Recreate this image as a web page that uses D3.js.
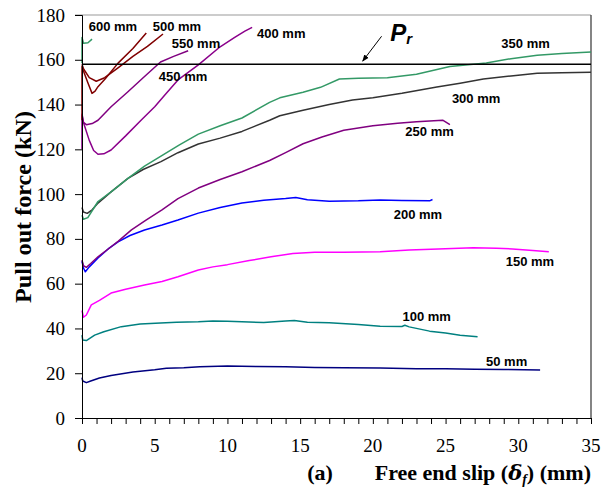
<!DOCTYPE html>
<html>
<head>
<meta charset="utf-8">
<script src="https://cdn.jsdelivr.net/npm/d3@7"></script>
<style>
  body { margin: 0; background: #fff; }
  svg { display: block; }
</style>
</head>
<body>
<svg id="chart" width="602" height="495"></svg>
<script>
// Pull-out force vs free end slip, one curve per embedment length
const lengths = ["50 mm", "100 mm", "150 mm", "200 mm", "250 mm", "300 mm",
                 "350 mm", "400 mm", "450 mm", "500 mm", "550 mm", "600 mm"];

const s50 = [[0,18],[0.05,16.5],[0.3,15.8],[0.6,16.5],[1.2,17.9],[2,19],[3.5,20.5],[5,21.5],[5.8,22.2],[7,22.4],[8.1,22.9],[10,23.2],[12,23],[14,22.9],[16,22.6],[18,22.4],[20.5,22.3],[23,22],[25,22],[27,21.8],[29,21.7],[31.5,21.4]];
const s100 = [[0,37],[0.05,34.8],[0.3,34.6],[0.87,37],[1.5,38.5],[2.7,40.8],[4,42],[5.4,42.4],[6.5,42.8],[8,43],[9,43.3],[10,43.2],[11,43],[12.5,42.6],[14,43.3],[14.6,43.5],[15.5,42.8],[17,42.5],[19,41.8],[20.5,41],[22,40.9],[22.2,41.4],[22.5,40.7],[23.9,38.8],[25,38],[26,37],[27.2,36.3]];
const s150 = [[0,48],[0.1,45],[0.3,46],[0.64,50.5],[1.2,52.5],[2,55.8],[3,57.5],[4.3,59.4],[5.5,61],[6.6,63.1],[8,66.1],[9,67.5],[10,68.5],[11.5,70.3],[13,72],[14.5,73.5],[16,74],[18,74],[20.5,74.3],[22.5,75],[24.5,75.5],[26.9,76],[28.5,75.8],[29.6,75.5],[31,74.8],[32.1,74.3]];
const s200 = [[0,70],[0.1,67],[0.23,65.3],[0.5,67.5],[1.1,71.5],[1.8,75.5],[2.48,78.7],[3.3,81.5],[4.3,84],[5.5,86.2],[6.6,88.4],[8,91.5],[9.5,94],[11,96],[12.5,97.3],[14,98],[14.7,98.5],[15.5,97.5],[17,96.8],[19,97],[20.5,97.4],[22,97.2],[23.9,97],[24.1,97.6]];
const s250 = [[0,70.5],[0.1,68],[0.3,67.3],[0.6,69],[1.1,72],[2,76.5],[2.5,79],[3.4,84],[4.4,88.4],[5.5,93],[6.6,98],[8,102.7],[9.5,106.5],[11,110],[12.9,115],[14,118.5],[15.2,122.5],[16.5,125.5],[18,128.5],[20,130.5],[21.7,131.7],[23,132.3],[24.8,133],[25.3,131]];
const s300 = [[0,94],[0.1,92],[0.36,91.4],[0.7,93],[1.1,96],[2,101],[3.16,107],[4.2,111],[5.43,114.5],[6.6,118.5],[8,122.4],[9.5,125],[11,128],[12.9,133],[13.6,135],[15.2,137.5],[17,140],[18.6,142],[20,143],[22,145],[24.4,147.8],[26,149.5],[27.6,151.4],[29.5,152.8],[31.3,154],[33,154.2],[35,154.4]];
const s350 = [[0,90.6],[0.1,88.8],[0.4,89.5],[1.1,96.7],[2,101],[3.16,107],[4.3,112.5],[5.43,117],[6.7,122],[8,126.8],[9.5,130.5],[11,134],[12.9,141],[13.6,143],[15.2,145.5],[16.4,147.7],[17.7,151.4],[19,151.8],[21,152],[23,153.5],[25.3,157],[27.8,158.6],[29.5,160.5],[31.3,162],[33,162.8],[35,163.5]];
const s400 = [[0,120],[0,135],[0.1,132],[0.5,124],[0.8,119.5],[1.1,117.8],[1.5,118],[2,119.7],[3,126],[4.06,133],[5,139],[5.8,145],[6.6,151],[8,157.7],[9.5,165.8],[10.5,170],[11.2,172.8],[11.7,174.5]];
const s450 = [[0,136],[0.1,132],[0.3,131],[0.7,131.5],[1.1,133],[2,139],[3.16,145.7],[4.3,152.5],[5.4,159],[6.3,161.5],[7.3,164]];
const s500 = [[0,133],[0,157],[0.1,155],[0.41,149.6],[0.69,145],[0.9,146],[1.1,148],[1.6,151.5],[2.48,158.5],[3.5,165],[4.42,172]];
const s550 = [[0,158],[0.1,156],[0.5,152],[0.98,150.4],[1.56,152],[2.5,156.5],[3.5,161.5],[4.5,166],[5.57,171.5]];
const s600 = [[0,158.5],[0,170],[0.1,167.4],[0.41,167.6],[0.69,169.2]];

const seriesValues = [s50, s100, s150, s200, s250, s300, s350, s400, s450, s500, s550, s600];
const seriesColors = ["#000080", "#008080", "#ff00ff", "#0000ff", "#800080", "#333333",
                      "#339966", "#8b008b", "#800080", "#800000", "#800000", "#339966"];

// label anchor for each curve (data units: slip, force)
const labelSlip = [29.2, 23.7, 30.8, 23.1, 23.9, 27.1, 30.5, 13.7, 6.95, 6.53, 7.84, 2.13];
const labelForce = [23.2, 43.3, 67.9, 88.9, 126.0, 140.7, 165.3, 169.7, 150.5, 172.8, 165.3, 172.8];

const resistance = 158; // P_r
const xTicks = d3.range(0, 36, 5);
const xMinorTicks = d3.range(0, 36, 1);
const yTicks = d3.range(0, 181, 20);

const width = 602, height = 495;
const margin = { top: 15, right: 11, bottom: 77, left: 82 };

const svg = d3.select("#chart");

const x = d3.scaleLinear().domain([0, 35]).range([margin.left, width - margin.right]);
const y = d3.scaleLinear().domain([0, 180]).range([height - margin.bottom, margin.top]);

// frame: light top, dark right
svg.append("line")
  .attr("x1", x(0) - 7).attr("x2", x(35))
  .attr("y1", y(180)).attr("y2", y(180))
  .attr("stroke", "#999").attr("stroke-width", 1);
svg.append("line")
  .attr("x1", x(35)).attr("x2", x(35))
  .attr("y1", y(180)).attr("y2", y(0))
  .attr("stroke", "#333").attr("stroke-width", 1.2);

// curves
const line = d3.line().x((d) => x(d[0])).y((d) => y(d[1]));

svg.append("g")
  .attr("class", "curves")
  .selectAll("path")
  .data(seriesValues)
  .enter()
  .append("path")
  .attr("d", line)
  .attr("fill", "none")
  .attr("stroke", (d, i) => seriesColors[i])
  .attr("stroke-width", 1.5)
  .attr("stroke-linejoin", "round");

// P_r line
svg.append("line")
  .attr("x1", x(0)).attr("x2", x(35))
  .attr("y1", y(resistance)).attr("y2", y(resistance))
  .attr("stroke", "#000").attr("stroke-width", 1.4);

// x axis
const xAxis = svg.append("g")
  .attr("transform", `translate(0,${y(0)})`)
  .call(d3.axisBottom(x).tickValues(xMinorTicks).tickSize(6).tickFormat(""));
xAxis.select(".domain").attr("stroke", "#000");
xAxis.append("g")
  .selectAll("text")
  .data(xTicks)
  .enter()
  .append("text")
  .attr("x", (d) => x(d))
  .attr("y", 34)
  .attr("text-anchor", "middle")
  .attr("font-family", "Liberation Serif, Times New Roman, serif")
  .attr("font-size", "19px")
  .attr("fill", "#000")
  .text((d) => d);

// y axis
const yAxis = svg.append("g")
  .attr("transform", `translate(${x(0)},0)`)
  .call(d3.axisLeft(y).tickValues(yTicks).tickSize(7).tickPadding(10));
yAxis.select(".domain").attr("stroke", "#000");
yAxis.selectAll("text")
  .attr("font-family", "Liberation Serif, Times New Roman, serif")
  .attr("font-size", "19px")
  .attr("fill", "#000");

// curve labels
svg.append("g")
  .selectAll("text")
  .data(lengths)
  .enter()
  .append("text")
  .attr("x", (d, i) => x(labelSlip[i]))
  .attr("y", (d, i) => y(labelForce[i]))
  .attr("text-anchor", "middle")
  .attr("font-family", "Liberation Sans, Arial, sans-serif")
  .attr("font-weight", "bold")
  .attr("font-size", "13px")
  .attr("fill", "#000")
  .text((d) => d);

// P_r annotation with arrow
svg.append("defs")
  .append("marker")
  .attr("id", "arrowhead")
  .attr("viewBox", "0 0 10 10")
  .attr("refX", 9).attr("refY", 5)
  .attr("markerWidth", 7).attr("markerHeight", 7)
  .attr("orient", "auto")
  .append("path")
  .attr("d", "M0,1 L10,5 L0,9 z")
  .attr("fill", "#000");

svg.append("line")
  .attr("x1", x(20.6)).attr("y1", y(170.5))
  .attr("x2", x(19.3)).attr("y2", y(159.4))
  .attr("stroke", "#000").attr("stroke-width", 1)
  .attr("marker-end", "url(#arrowhead)");

const pr = svg.append("text")
  .attr("x", x(21.2))
  .attr("y", y(168.5))
  .attr("font-family", "Liberation Sans, Arial, sans-serif")
  .attr("font-weight", "bold")
  .attr("font-style", "italic")
  .attr("font-size", "24px")
  .attr("fill", "#000");
pr.append("tspan").text("P");
pr.append("tspan").attr("font-size", "15px").attr("dy", 3).text("r");

// axis titles
svg.append("text")
  .attr("transform", "translate(31,207) rotate(-90)")
  .attr("text-anchor", "middle")
  .attr("font-family", "Liberation Serif, Times New Roman, serif")
  .attr("font-weight", "bold")
  .attr("font-size", "24px")
  .attr("textLength", 192)
  .attr("lengthAdjust", "spacingAndGlyphs")
  .attr("fill", "#000")
  .text("Pull out force (kN)");

const xt = svg.append("text")
  .attr("x", x(35))
  .attr("y", 480)
  .attr("text-anchor", "end")
  .attr("font-family", "Liberation Serif, Times New Roman, serif")
  .attr("font-weight", "bold")
  .attr("font-size", "22px")
  .attr("fill", "#000");
xt.append("tspan").text("Free end slip (");
xt.append("tspan").attr("font-style", "italic").attr("font-family", "DejaVu Serif, serif").attr("font-size", "21px").text("δ");
xt.append("tspan").attr("font-style", "italic").attr("font-size", "14px").attr("dy", 4).text("f");
xt.append("tspan").attr("dy", -4).text(") (mm)");

svg.append("text")
  .attr("x", 320)
  .attr("y", 480)
  .attr("text-anchor", "middle")
  .attr("font-family", "Liberation Serif, Times New Roman, serif")
  .attr("font-weight", "bold")
  .attr("font-size", "22px")
  .attr("fill", "#000")
  .text("(a)");
</script>
</body>
</html>
